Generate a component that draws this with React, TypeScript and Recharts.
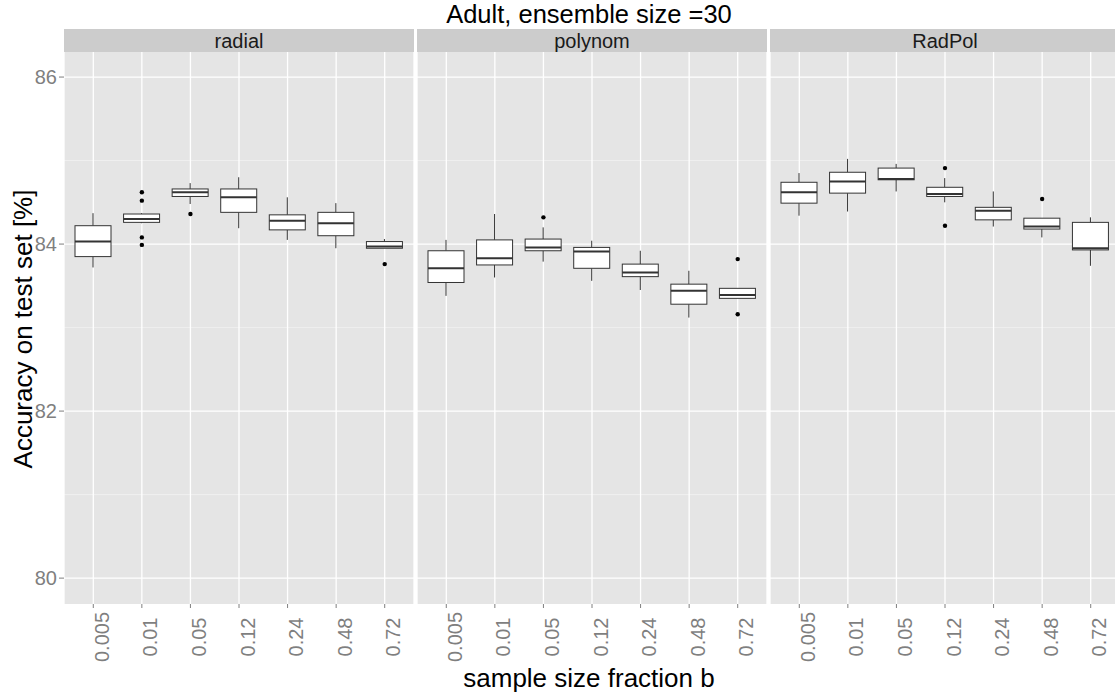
import React from "react"
import { ComposedChart, Bar, Scatter, XAxis, YAxis, CartesianGrid } from "recharts"

const categories = ["0.005", "0.01", "0.05", "0.12", "0.24", "0.48", "0.72"]
const panelNames = ["radial", "polynom", "RadPol"]

// [whisker low, q1, median, q3, whisker high]
const radialStats = [
  [83.72, 83.85, 84.03, 84.22, 84.37],
  [84.25, 84.26, 84.3, 84.36, 84.37],
  [84.48, 84.57, 84.62, 84.66, 84.73],
  [84.19, 84.38, 84.56, 84.66, 84.8],
  [84.05, 84.17, 84.28, 84.35, 84.56],
  [83.95, 84.1, 84.25, 84.38, 84.49],
  [83.95, 83.95, 83.97, 84.03, 84.06],
]
const radialOutliers = [[], [84.62, 84.52, 84.08, 83.99], [84.36], [], [], [], [83.76]]

const polynomStats = [
  [83.38, 83.54, 83.71, 83.92, 84.05],
  [83.6, 83.75, 83.83, 84.05, 84.36],
  [83.79, 83.92, 83.96, 84.06, 84.2],
  [83.56, 83.71, 83.91, 83.96, 84.04],
  [83.45, 83.61, 83.66, 83.76, 83.92],
  [83.12, 83.28, 83.44, 83.52, 83.68],
  [83.35, 83.35, 83.39, 83.47, 83.47],
]
const polynomOutliers = [[], [], [84.32], [], [], [], [83.82, 83.16]]

const radpolStats = [
  [84.34, 84.49, 84.62, 84.74, 84.85],
  [84.39, 84.61, 84.75, 84.86, 85.02],
  [84.63, 84.77, 84.78, 84.91, 84.96],
  [84.5, 84.57, 84.6, 84.68, 84.79],
  [84.21, 84.29, 84.4, 84.44, 84.63],
  [84.08, 84.18, 84.21, 84.31, 84.31],
  [83.74, 83.93, 83.95, 84.26, 84.32],
]
const radpolOutliers = [[], [], [], [84.91, 84.22], [], [84.54], []]

const yTicks = [80, 82, 84, 86]
const yMinor = [81, 83, 85]
const outKeys = ["o1", "o2", "o3", "o4"]

const font = "'Liberation Sans', Arial, Helvetica, sans-serif"
const grey50 = "#7F7F7F"
const boxLine = "#333333"

function buildRows(stats: number[][], outliers: number[][]) {
  return categories.map((b, i) => {
    const [lo, q1, med, q3, hi] = stats[i]
    const row: any = { b, lo, q1, med, q3, hi }
    outKeys.forEach((k, j) => {
      row[k] = outliers[i][j] ?? null
    })
    return row
  })
}

const panels = [
  { name: panelNames[0], rows: buildRows(radialStats, radialOutliers), left: 0, width: 414, showY: true },
  { name: panelNames[1], rows: buildRows(polynomStats, polynomOutliers), left: 417, width: 350, showY: false },
  { name: panelNames[2], rows: buildRows(radpolStats, radpolOutliers), left: 770, width: 350, showY: false },
]

const BoxShape = (props: any) => {
  const { x, y, width, height, payload } = props
  const { lo, q1, med, q3, hi } = payload
  // linear y-scale recovered from the whisker range bar
  const py = (v: number) => y + ((hi - v) / (hi - lo)) * height
  const cx = x + width / 2
  return (
    <g>
      <line x1={cx} x2={cx} y1={py(hi)} y2={py(q3)} stroke={boxLine} strokeWidth={1} />
      <line x1={cx} x2={cx} y1={py(q1)} y2={py(lo)} stroke={boxLine} strokeWidth={1} />
      <rect x={x} y={py(q3)} width={width} height={py(q1) - py(q3)} fill="#fff" stroke={boxLine} strokeWidth={1} />
      <line x1={x} x2={x + width} y1={py(med)} y2={py(med)} stroke={boxLine} strokeWidth={2} />
    </g>
  )
}

const outlierShape = (key: string) => (props: any) => {
  if (props.payload[key] == null) return <g />
  return <circle cx={props.cx} cy={props.cy} r={2.2} fill="#000" />
}

const XTick = (props: any) => {
  const { x, y, payload } = props
  const tx = x + 8.5
  const ty = y + 27
  return (
    <text
      x={tx}
      y={ty}
      transform={`rotate(-90, ${tx}, ${ty})`}
      textAnchor="middle"
      dominantBaseline="central"
      fill={grey50}
      fontSize={20}
    >
      {payload.value}
    </text>
  )
}

function Panel({ rows, width, showY }: any) {
  return (
    <ComposedChart width={width} height={632} data={rows} margin={{ top: 0, right: 0, bottom: 0, left: 0 }}>
      <CartesianGrid fill="#E5E5E5" stroke="#F2F2F2" strokeWidth={0.8} vertical={false} horizontalValues={yMinor} />
      <CartesianGrid stroke="#FFFFFF" strokeWidth={1.3} horizontalValues={yTicks} />
      <XAxis
        dataKey="b"
        interval={0}
        height={80}
        padding={{ left: 5, right: 5 }}
        axisLine={false}
        tickLine={{ stroke: grey50 }}
        tickSize={4}
        tickMargin={2}
        tick={<XTick />}
      />
      <YAxis
        type="number"
        domain={[79.69, 86.3]}
        allowDataOverflow
        ticks={yTicks}
        hide={!showY}
        width={64}
        axisLine={false}
        tickLine={{ stroke: grey50 }}
        tickSize={5}
        tickMargin={2}
        tick={{ fill: grey50, fontSize: 20 }}
      />
      <Bar dataKey={(d: any) => [d.lo, d.hi]} barSize={36} shape={<BoxShape />} isAnimationActive={false} />
      {outKeys.map((k) => (
        <Scatter key={k} dataKey={k} shape={outlierShape(k)} isAnimationActive={false} />
      ))}
    </ComposedChart>
  )
}

export default function App() {
  return (
    <div
      style={{
        position: "absolute",
        left: 0,
        top: 0,
        width: 1115,
        height: 693,
        overflow: "hidden",
        background: "#fff",
        fontFamily: font,
      }}
    >
      {panels.map((p) => (
        <div key={p.name} style={{ position: "absolute", left: p.left, top: 52 }}>
          <Panel rows={p.rows} width={p.width} showY={p.showY} />
        </div>
      ))}
      <svg width={1115} height={693} style={{ position: "absolute", left: 0, top: 0, pointerEvents: "none" }}>
        {panels.map((p) => {
          const x0 = p.showY ? 64 : p.left
          return (
            <g key={p.name}>
              <rect x={x0} y={29} width={350} height={23} fill="#CCCCCC" />
              <text x={x0 + 175} y={47.5} textAnchor="middle" fontSize={20} fill="#1A1A1A">
                {p.name}
              </text>
            </g>
          )
        })}
        <text x={589} y={23} textAnchor="middle" fontSize={25.5} fill="#000">
          Adult, ensemble size =30
        </text>
        <text x={589} y={687} textAnchor="middle" fontSize={26} fill="#000">
          sample size fraction b
        </text>
        <text x={32} y={329} textAnchor="middle" fontSize={26} fill="#000" transform="rotate(-90, 32, 329)">
          Accuracy on test set [%]
        </text>
      </svg>
    </div>
  )
}
